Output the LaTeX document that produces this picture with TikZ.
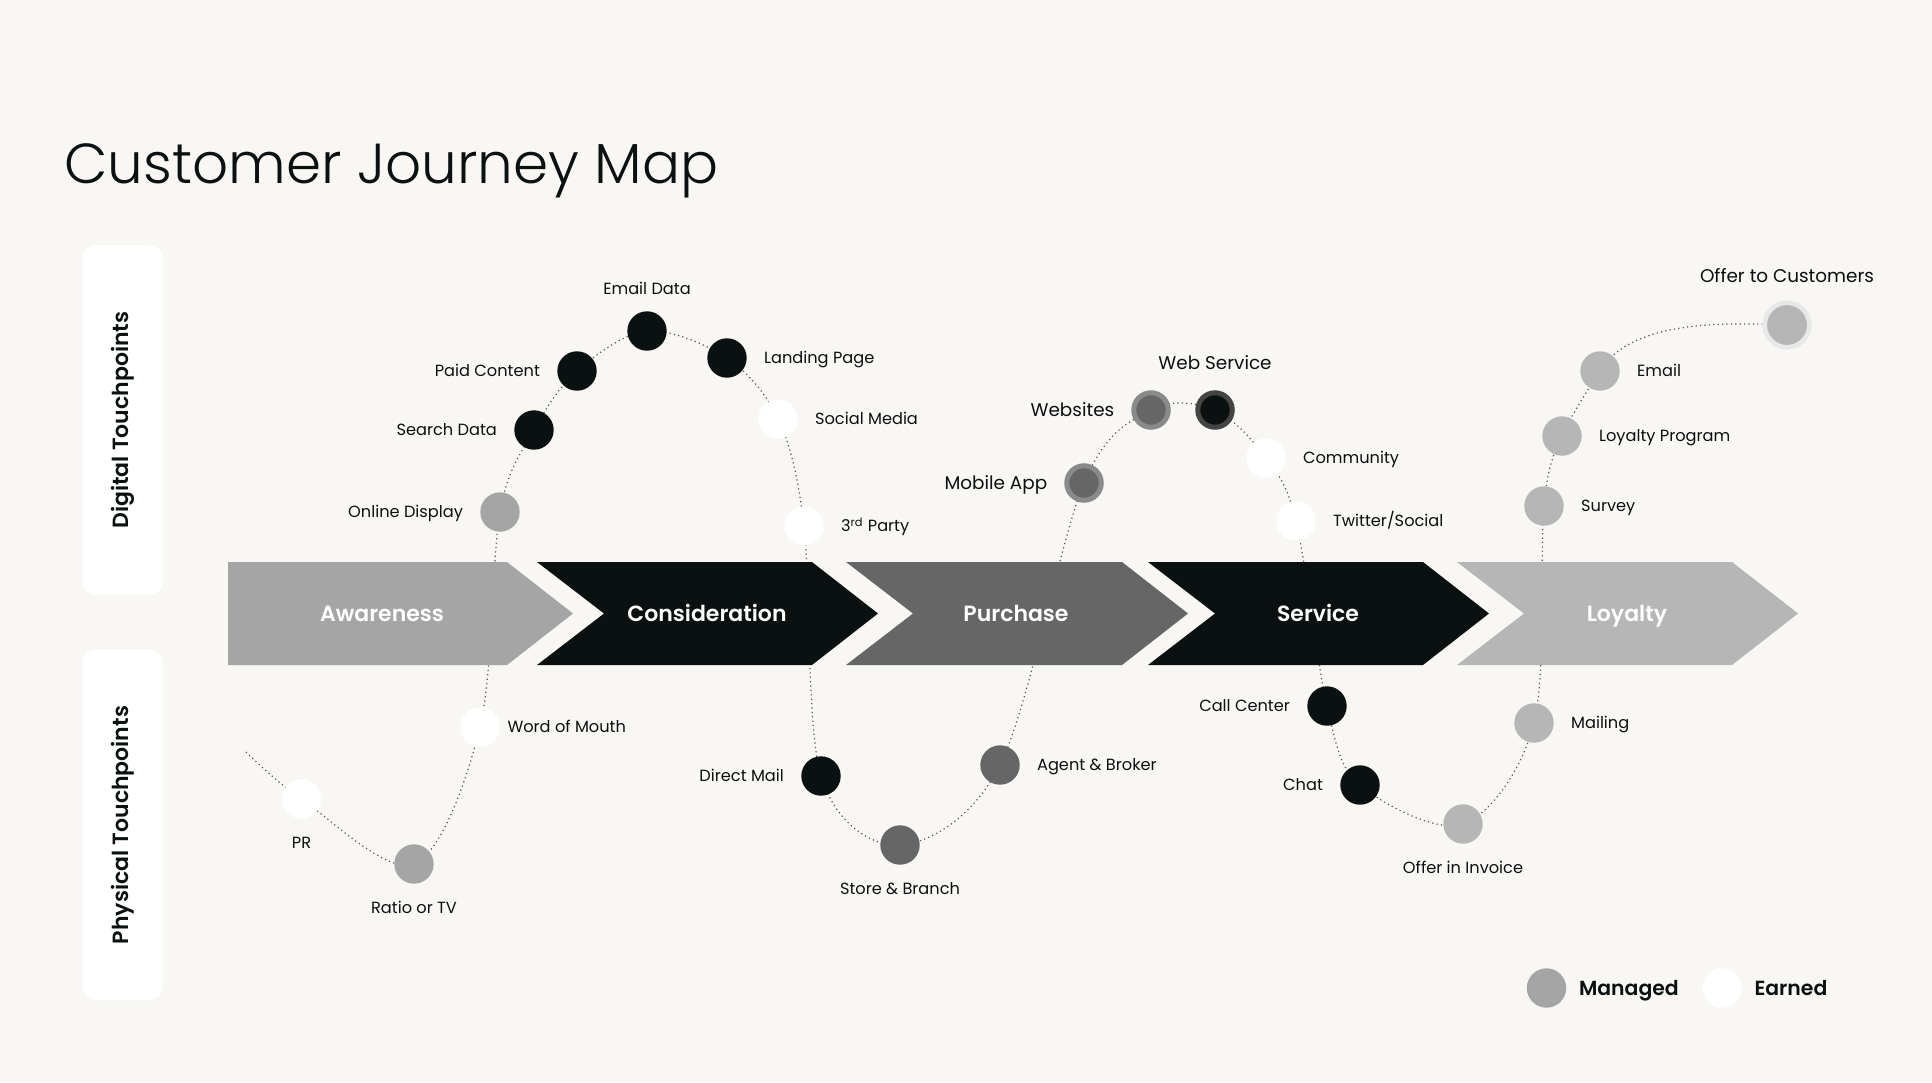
\documentclass[tikz,border=0pt]{standalone}
\usepackage{fontspec}
\setmainfont{Poppins}
\IfFontExistsTF{Poppins Light}{\newfontfamily\lightfont{Poppins Light}}{\newfontfamily\lightfont{Poppins}}
\IfFontExistsTF{Poppins SemiBold}{\newfontfamily\semifont{Poppins SemiBold}}{\newcommand{\semifont}{\bfseries}}
\usetikzlibrary{positioning, calc}

\pgfdeclarelayer{paper}
\pgfdeclarelayer{trail}
\pgfsetlayers{paper,trail,main}

\definecolor{bgPaper}{HTML}{F8F7F4}
\definecolor{cInk}{HTML}{0A1110}
\definecolor{cBlack}{HTML}{0A1110}
\definecolor{cDark}{HTML}{666666}
\definecolor{cMid}{HTML}{A5A5A5}
\definecolor{cLight}{HTML}{B5B6B5}
\definecolor{cRing}{HTML}{8A8A8A}
\definecolor{cRingDark}{HTML}{444444}
\definecolor{cHalo}{HTML}{E8E8E8}
\definecolor{cTrail}{HTML}{555555}

\begin{document}
\begin{tikzpicture}[
  x=0.5pt, y=-0.5pt,
  font=\fontsize{8.1}{10}\selectfont,
  node distance=8.3pt
]
% -------------------- Styles --------------------
\tikzset{
  touch/.style={circle, minimum size=19.7pt, inner sep=0pt},
  tBlack/.style={touch, fill=cBlack},
  tDark/.style={touch, fill=cDark},
  tMid/.style={touch, fill=cMid},
  tLight/.style={touch, fill=cLight},
  tWhite/.style={touch, fill=white},
  tRing/.style={touch, minimum size=17.25pt, fill=cDark, draw=cRing, line width=2.5pt},
  tRingDark/.style={tRing, fill=cBlack, draw=cRingDark},
  tHalo/.style={touch, minimum size=22.3pt, fill=cLight, draw=cHalo, line width=2.33pt},
  lbl/.style={inner sep=0pt, text=cInk, text height=5.7pt, text depth=0pt},
  lblBig/.style={lbl, font=\fontsize{9.2}{11}\selectfont, text height=6.4pt},
  stageTxt/.style={inner sep=0pt, anchor=base, text=white, font=\semifont\fontsize{11}{13}\selectfont},
  panel/.style={
    fill=white, rounded corners=6.5pt, rotate=90,
    minimum width=175pt, minimum height=40pt,
    text=cInk, font=\semifont\fontsize{11}{13}\selectfont
  },
  legendTxt/.style={inner sep=0pt, text=cInk, text height=7.1pt, text depth=0pt,
    font=\semifont\fontsize{10.2}{12}\selectfont},
  trail/.style={draw=cTrail, line width=0.6pt, dash pattern=on 0.6pt off 1.6pt}
}

\begin{pgfonlayer}{paper}
  \fill[bgPaper] (0,0) rectangle (1932,1082);
\end{pgfonlayer}
\useasboundingbox (0,0) rectangle (1932,1082);

% -------------------- Title and side panels --------------------
\node[anchor=base west, inner sep=0pt, text=cInk, font=\lightfont\fontsize{28.2}{34}\selectfont]
  (title) at (64,183) {Customer Journey Map};

\node[panel] (digital) at (122.6,420) {Digital Touchpoints};
\node[panel] (physical) at (122.6,825) {Physical Touchpoints};

% -------------------- Stages (chevrons) --------------------
\foreach \L/\R/\tx/\col/\name [count=\k] in {
    228/507/382/cMid/Awareness,
    537/812/707/cBlack/Consideration,
    846/1122/1016/cDark/Purchase,
    1148/1423/1318/cBlack/Service,
    1457/1732/1627/cLight/Loyalty}{
  \ifnum\k=1
    \fill[\col] (\L,562) -- (\R,562) -- ({\R+66},613.5) -- (\R,665) -- (\L,665) -- cycle;
  \else
    \fill[\col] (\L,562) -- (\R,562) -- ({\R+66},613.5) -- (\R,665) -- (\L,665)
      -- ({\L+67},613.5) -- cycle;
  \fi
  \node[stageTxt] (stage\k) at (\tx,621) {\name};
}

% -------------------- Touchpoints: awareness --------------------
\node[tWhite] (pr) at (301.5,799) {};
\node[tMid] (ratio) at (414,864) {};
\node[tWhite] (mouth) at (480,727) {};
\node[tMid] (display) at (500,512) {};

\node[lbl, below=9pt of pr] (prLbl) {PR};
\node[lbl, below=9pt of ratio] (ratioLbl) {Ratio or TV};
\node[lbl, right=3.5pt of mouth] (mouthLbl) {Word of Mouth};
\node[lbl, left=of display] (displayLbl) {Online Display};

% -------------------- Touchpoints: consideration --------------------
\node[tBlack] (search) at (534,430) {};
\node[tBlack] (paid) at (577,371) {};
\node[tBlack] (emailData) at (647,331) {};
\node[tBlack] (landing) at (727,358) {};
\node[tWhite] (social) at (778,419) {};
\node[tWhite] (party) at (804,526) {};
\node[tBlack] (directMail) at (821,776) {};

\node[lbl, left=of search] (searchLbl) {Search Data};
\node[lbl, left=of paid] (paidLbl) {Paid Content};
\node[lbl, above=8pt of emailData] (emailDataLbl) {Email Data};
\node[lbl, right=of landing] (landingLbl) {Landing Page};
\node[lbl, right=of social] (socialLbl) {Social Media};
\node[lbl, right=of party] (partyLbl) {3\textsuperscript{rd} Party};
\node[lbl, left=of directMail] (directMailLbl) {Direct Mail};

% -------------------- Touchpoints: purchase --------------------
\node[tDark] (store) at (900,845) {};
\node[tDark] (agent) at (1000,765) {};
\node[tRing] (mobileApp) at (1084,483) {};
\node[tRing] (websites) at (1151,410) {};
\node[tRingDark] (webService) at (1215,410) {};

\node[lbl, below=9pt of store] (storeLbl) {Store \& Branch};
\node[lbl, right=of agent] (agentLbl) {Agent \& Broker};
\node[lblBig, left=of mobileApp] (mobileAppLbl) {Mobile App};
\node[lblBig, left=of websites] (websitesLbl) {Websites};
\node[lblBig, above=10pt of webService] (webServiceLbl) {Web Service};

% -------------------- Touchpoints: service --------------------
\node[tWhite] (community) at (1266,458) {};
\node[tWhite] (twitter) at (1296,521) {};
\node[tBlack] (callCenter) at (1327,706) {};
\node[tBlack] (chat) at (1360,785) {};
\node[tLight] (invoice) at (1463,824) {};

\node[lbl, right=of community] (communityLbl) {Community};
\node[lbl, right=of twitter] (twitterLbl) {Twitter/Social};
\node[lbl, left=of callCenter] (callCenterLbl) {Call Center};
\node[lbl, left=of chat] (chatLbl) {Chat};
\node[lbl, below=9pt of invoice] (invoiceLbl) {Offer in Invoice};

% -------------------- Touchpoints: loyalty --------------------
\node[tLight] (mailing) at (1534,723) {};
\node[tLight] (survey) at (1544,506) {};
\node[tLight] (loyaltyProg) at (1562,436) {};
\node[tLight] (emailLoy) at (1600,371) {};
\node[tHalo] (offerCust) at (1787,325) {};

\node[lbl, right=of mailing] (mailingLbl) {Mailing};
\node[lbl, right=of survey] (surveyLbl) {Survey};
\node[lbl, right=of loyaltyProg] (loyaltyProgLbl) {Loyalty Program};
\node[lbl, right=of emailLoy] (emailLoyLbl) {Email};
\node[lblBig, above=8.5pt of offerCust] (offerCustLbl) {Offer to Customers};

% -------------------- Journey trail (behind everything) --------------------
\coordinate (trailStart) at (246,752);
\begin{pgfonlayer}{trail}
  \draw[trail] plot[smooth, tension=0.55] coordinates {
    (trailStart) (pr) (ratio) (mouth) (display) (search) (paid) (emailData)
    (landing) (social) (party) (directMail) (store) (agent) (mobileApp)
    (websites) (webService) (community) (twitter) (callCenter) (chat)
    (invoice) (mailing) (survey) (loyaltyProg) (emailLoy)}
    .. controls (1625,330) and (1690,322) .. (offerCust);
\end{pgfonlayer}

% -------------------- Legend --------------------
\node[tMid] (managedKey) at (1546.5,988) {};
\node[legendTxt, right=6pt of managedKey] (managedLbl) {Managed};
\node[tWhite] (earnedKey) at (1722,988) {};
\node[legendTxt, right=6pt of earnedKey] (earnedLbl) {Earned};

\end{tikzpicture}
\end{document}
